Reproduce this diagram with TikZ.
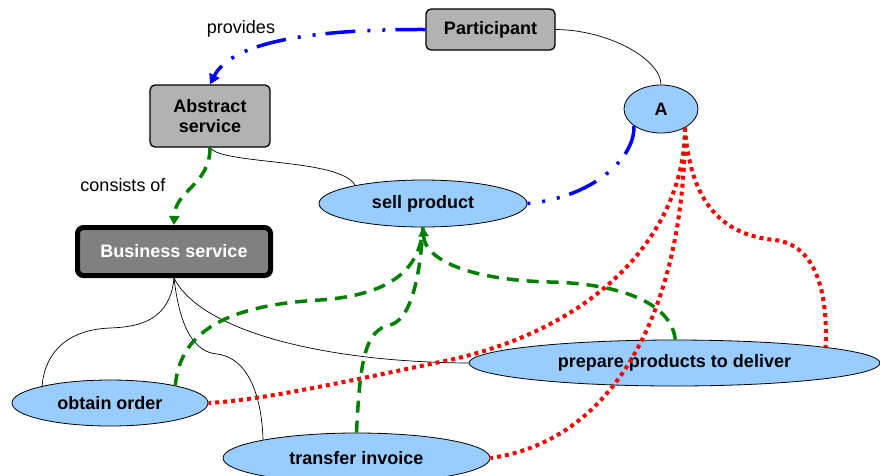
\documentclass[tikz,border=0pt]{standalone}
\usepackage{fontspec}
\setmainfont{Liberation Sans}
\usetikzlibrary{shapes.geometric,arrows.meta}
\definecolor{boxgray}{HTML}{B2B2B2}
\definecolor{darkgray}{HTML}{808080}
\definecolor{lightblue}{HTML}{99CCFF}
\definecolor{dgreen}{HTML}{008000}
\newcommand{\bigfont}{\fontsize{18}{20}\selectfont}
\tikzset{
  box/.style={draw=black, line width=1.3pt, rounded corners=5pt, fill=boxgray, font=\bigfont\bfseries, align=center, inner sep=0pt},
  bizbox/.style={draw=black, line width=5pt, rounded corners=6pt, fill=darkgray, text=white, font=\bigfont\bfseries, inner sep=0pt},
  role/.style={ellipse, draw=black, line width=0.8pt, fill=lightblue, font=\bigfont\bfseries, inner sep=0pt},
  lbl/.style={font=\bigfont},
  thinlink/.style={draw=black, line width=0.7pt},
  bluelink/.style={draw=blue, line width=3.5pt, dash pattern=on 30pt off 10pt on 3pt off 12pt on 3pt off 12pt},
  greenlink/.style={draw=dgreen, line width=3.5pt, dash pattern=on 12pt off 8pt},
  redlink/.style={draw=red, line width=4pt, dash pattern=on 4pt off 4pt},
}
\begin{document}
\begin{tikzpicture}[x=1pt,y=-1pt]
\useasboundingbox (0,0) rectangle (880,475);
\clip (0,0) rectangle (880,475);
% nodes
\node[box, minimum width=129pt, minimum height=41pt] (P) at (490.5,29.5) {Participant};
\node[box, minimum width=120pt, minimum height=62pt] (AS) at (210,116) {Abstract\\service};
\node[bizbox, minimum width=193pt, minimum height=48pt] (BS) at (174,251.5) {Business service};
\node[role, minimum width=74pt, minimum height=48pt] (A) at (661,109) {A};
\node[role, minimum width=208pt, minimum height=47pt] (SP) at (423,203.5) {sell product};
\node[role, minimum width=196pt, minimum height=46pt] (OO) at (110,403) {obtain order};
\node[role, minimum width=411pt, minimum height=46pt] (PP) at (674.5,363) {prepare products to deliver};
\node[role, minimum width=267pt, minimum height=50pt] (TI) at (356.5,458) {transfer invoice};
\node[lbl] (prov) at (241,29) {provides};
\node[lbl] (cons) at (123,185) {consists of};
% thin black links
\draw[thinlink] (P.east) .. controls (610,30) and (661,60) .. (A.north);
\draw[thinlink] (AS.south) .. controls (222,165) and (340,158) .. (SP.165);
\draw[thinlink] (BS.south) .. controls (170,320) and (140,327) .. (110,328) .. controls (60,330) and (44,360) .. (OO.166);
\draw[thinlink] (BS.south) .. controls (180,330) and (195,352) .. (217,354) .. controls (250,358) and (262,400) .. (TI.169);
\draw[thinlink] (BS.south) .. controls (200,330) and (320,362) .. (PP.west);
% green links
\draw[greenlink, -{Triangle[length=9pt,width=10pt]}] (AS.south) .. controls (210,185) and (175,190) .. (BS.north);
\draw[greenlink] (OO.15) .. controls (180,330) and (230,305) .. (320,300) .. controls (390,295) and (420,270) .. (SP.south);
\draw[greenlink] (TI.north) .. controls (360,360) and (365,330) .. (390,325) .. controls (410,320) and (420,280) .. (SP.south);
\draw[greenlink, -{Triangle[length=9pt,width=10pt]}] (PP.88) .. controls (670,295) and (600,283) .. (550,282) .. controls (470,280) and (425,260) .. (SP.south);
% blue links
\draw[bluelink, -{Triangle[length=10pt,width=11pt]}] (P.west) .. controls (300,29) and (230,45) .. (AS.north);
\draw[bluelink] (A.212) .. controls (635,160) and (590,198) .. (SP.east);
% red links
\draw[redlink] (A.-38) .. controls (685,230) and (600,330) .. (440,362) .. controls (330,385) and (260,400) .. (OO.east);
\draw[redlink] (A.-38) .. controls (685,300) and (620,440) .. (TI.east);
\draw[redlink] (A.-38) .. controls (690,200) and (720,235) .. (775,240) .. controls (815,245) and (828,290) .. (PP.6.3);
\end{tikzpicture}
\end{document}
